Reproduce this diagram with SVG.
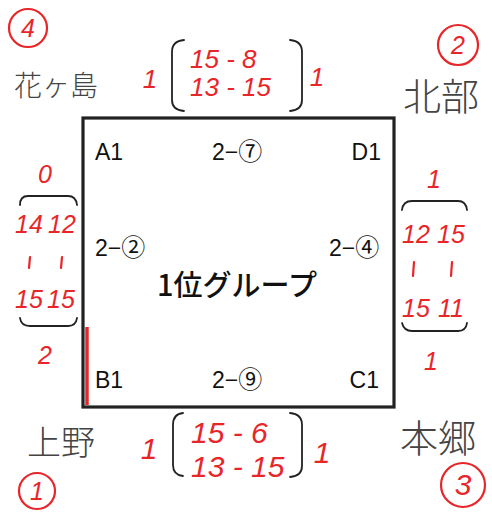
<svg xmlns="http://www.w3.org/2000/svg" width="492" height="513" viewBox="0 0 492 513">
<style>
.lbl{font-family:"Liberation Sans",Arial,sans-serif;font-size:23px;fill:#111}
.cd{font-family:"Noto Sans CJK JP",sans-serif;font-size:24px}
.title{font-family:"Noto Sans CJK JP","Liberation Sans",sans-serif;font-size:29px;fill:#111;font-weight:500}
.hw{font-family:"Liberation Sans",Arial,sans-serif;font-style:italic;font-size:26px;fill:#e8262a}
.hwb{font-family:"Liberation Sans",Arial,sans-serif;font-style:italic;font-size:30px;fill:#e8262a}
.hws{font-family:"Liberation Sans",Arial,sans-serif;font-style:italic;font-size:25px;fill:#e8262a}
.team{font-family:"Noto Sans CJK JP",sans-serif;fill:#444;font-weight:300}
.circ{fill:none;stroke:#e8262a;stroke-width:2.2}
.br{fill:none;stroke:#222;stroke-width:1.8;stroke-linecap:round}
.tick{stroke:#e8262a;stroke-width:2.2;stroke-linecap:round}
</style>
<rect width="492" height="513" fill="#fff"/>
<g id="group-box">
<rect x="83" y="118" width="311" height="289" fill="none" stroke="#222" stroke-width="3.2"/>
<line x1="87" y1="327" x2="87" y2="405" stroke="#e8262a" stroke-width="3.5"/>
<text class="title" x="237" y="296" text-anchor="middle">1位グループ</text>
</g>
<g id="A1"><text class="lbl" x="95" y="160">A1</text></g>
<g id="slot-2-7"><text class="lbl" x="212" y="160">2−<tspan class="cd">⑦</tspan></text></g>
<g id="D1"><text class="lbl" x="381" y="160" text-anchor="end">D1</text></g>
<g id="slot-2-2"><text class="lbl" x="95" y="256">2−<tspan class="cd">②</tspan></text></g>
<g id="slot-2-4"><text class="lbl" x="329" y="256">2−<tspan class="cd">④</tspan></text></g>
<g id="B1"><text class="lbl" x="95" y="388">B1</text></g>
<g id="slot-2-9"><text class="lbl" x="212" y="388">2−<tspan class="cd">⑨</tspan></text></g>
<g id="C1"><text class="lbl" x="379" y="388" text-anchor="end">C1</text></g>

<g id="team-hanagashima">
<circle class="circ" cx="28" cy="28" r="19"/>
<text class="hws" x="28" y="37" text-anchor="middle">4</text>
<text class="team" x="14" y="96" font-size="28">花ヶ島</text>
</g>
<g id="team-hokubu">
<circle class="circ" cx="458" cy="45" r="20"/>
<text class="hws" x="458" y="54" text-anchor="middle">2</text>
<text class="team" x="403" y="110" font-size="38">北部</text>
</g>
<g id="team-ueno">
<text class="team" x="27" y="455" font-size="34">上野</text>
<circle class="circ" cx="37" cy="491" r="18"/>
<text class="hws" x="37" y="500" text-anchor="middle">1</text>
</g>
<g id="team-hongo">
<text class="team" x="400" y="452" font-size="38">本郷</text>
<circle class="circ" cx="463" cy="485" r="22"/>
<text class="hwb" x="463" y="495" text-anchor="middle">3</text>
</g>

<g id="connectors">
<g id="score-top">
<text class="hw" x="150" y="88" text-anchor="middle">1</text>
<path class="br" d="M184,40 Q172,41 172,52 L172,100 Q172,110 184,111"/>
<text class="hw" x="190" y="68">15 - 8</text>
<text class="hw" x="190" y="96">13 - 15</text>
<path class="br" d="M290,40 Q302,41 302,52 L302,100 Q302,110 290,111"/>
<text class="hw" x="317" y="86" text-anchor="middle">1</text>
</g>
<g id="score-bottom">
<text class="hwb" x="149" y="459" text-anchor="middle">1</text>
<path class="br" d="M183,413 Q173,414 173,425 L173,465 Q173,475 183,476"/>
<text class="hwb" x="191" y="443">15 - 6</text>
<text class="hwb" x="191" y="477">13 - 15</text>
<path class="br" d="M290,413 Q302,414 302,425 L302,466 Q302,476 290,477"/>
<text class="hwb" x="322" y="463" text-anchor="middle">1</text>
</g>
<g id="score-left">
<text class="hws" x="45" y="183" text-anchor="middle">0</text>
<path class="br" d="M20,205 Q20,196 28,196 L68,196 Q76,196 77,205"/>
<text class="hws" x="29" y="233" text-anchor="middle">14</text>
<text class="hws" x="62" y="233" text-anchor="middle">12</text>
<line class="tick" x1="30" y1="257" x2="29" y2="268"/>
<line class="tick" x1="62" y1="257" x2="61" y2="268"/>
<text class="hws" x="29" y="308" text-anchor="middle">15</text>
<text class="hws" x="61" y="308" text-anchor="middle">15</text>
<path class="br" d="M20,318 Q21,326 30,326 L68,326 Q76,326 77,318"/>
<text class="hws" x="45" y="364" text-anchor="middle">2</text>
</g>
<g id="score-right">
<text class="hws" x="434" y="188" text-anchor="middle">1</text>
<path class="br" d="M402,210 Q403,201 412,201 L458,201 Q466,201 467,210"/>
<text class="hws" x="416" y="243" text-anchor="middle">12</text>
<text class="hws" x="451" y="243" text-anchor="middle">15</text>
<line class="tick" x1="414" y1="262" x2="413" y2="276"/>
<line class="tick" x1="452" y1="262" x2="451" y2="276"/>
<text class="hws" x="416" y="317" text-anchor="middle">15</text>
<text class="hws" x="451" y="317" text-anchor="middle">11</text>
<path class="br" d="M402,323 Q404,331 412,331 L458,331 Q466,331 467,323"/>
<text class="hws" x="431" y="370" text-anchor="middle">1</text>
</g>
</g>
</svg>
